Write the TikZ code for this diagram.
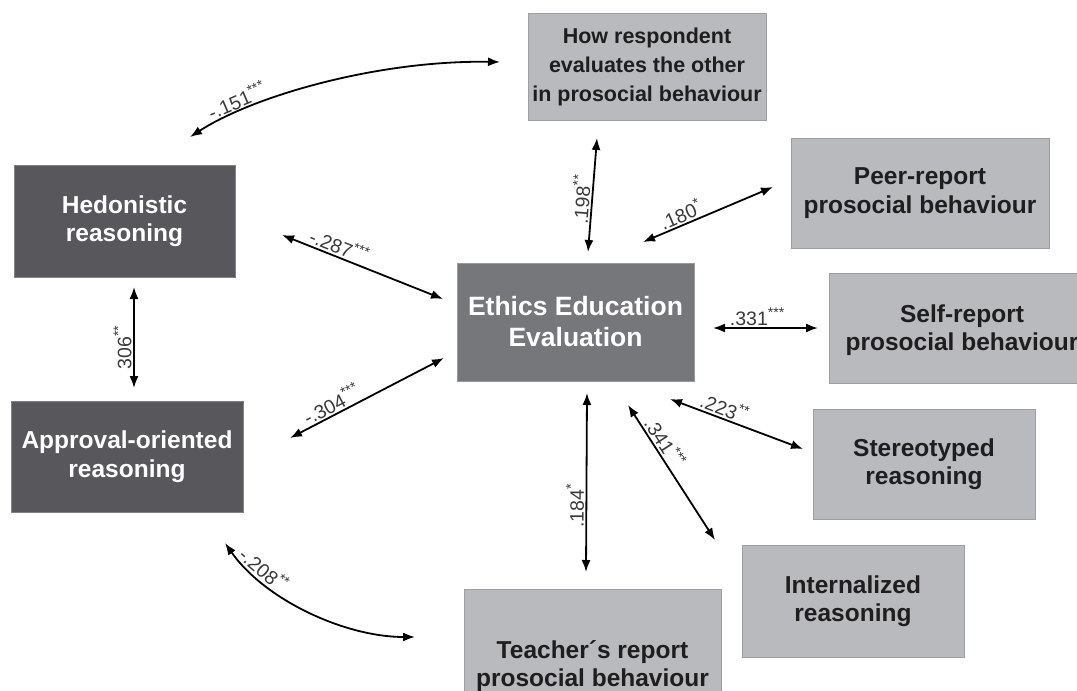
\documentclass[tikz,border=0pt]{standalone}
\usepackage{fontspec}
\setmainfont{Liberation Sans}
\usetikzlibrary{arrows.meta}
\definecolor{darkbox}{HTML}{58585C}
\definecolor{midbox}{HTML}{76777B}
\definecolor{lightbox}{HTML}{B9BABD}
\definecolor{labgray}{HTML}{3A3A3A}
\definecolor{txtdark}{HTML}{1E1E1E}
\newcommand\sigstars[1]{\raisebox{0.42em}{\fontsize{14}{14}\selectfont #1}}
\begin{document}
\begin{tikzpicture}[x=1pt,y=-1pt,
  box/.style={rectangle, inner sep=0pt, outer sep=0pt, align=center, line width=0.8pt,
              font=\bfseries\fontsize{24.5}{28.5}\selectfont},
  dbox/.style={box, fill=darkbox, draw=darkbox!75!white, text=white},
  mbox/.style={box, fill=midbox, draw=midbox!75!white, text=white},
  lbox/.style={box, fill=lightbox, draw=lightbox!85!black, text=txtdark},
  btxt/.style={inner sep=0pt, align=center, font=\bfseries\fontsize{24.5}{28.5}\selectfont, text=txtdark},
  arr/.style={{Latex[length=12pt,width=9pt]}-{Latex[length=12pt,width=9pt]}, line width=1.8pt, black},
  lab/.style={font=\fontsize{19.5}{19.5}\selectfont, text=labgray, inner sep=1.5pt, sloped, above}]
\useasboundingbox (0,0) rectangle (1077,691);
\fill[white] (0,0) rectangle (1077,691);

% boxes
\node[lbox, minimum width=238pt, minimum height=107pt, font=\bfseries\fontsize{21.5}{29}\selectfont] (how) at (647,66.5)
  {How respondent\\evaluates the other\\in prosocial behaviour};
\node[lbox, minimum width=258pt, minimum height=110pt] (peer) at (920,193) {Peer-report\\prosocial behaviour};
\node[lbox, minimum width=261pt, minimum height=110pt] (self) at (959.5,328) {};
\node[btxt] (selft) at (962,330) {Self-report\\prosocial behaviour};
\node[lbox, minimum width=222pt, minimum height=110pt] (stereo) at (924,464) {Stereotyped\\reasoning};
\node[lbox, minimum width=222pt, minimum height=112pt] (intern) at (853,601) {Internalized\\reasoning};
\node[lbox, minimum width=257pt, minimum height=154pt] (teach) at (592.5,666) {Teacher´s report\\prosocial behaviour};
\node[mbox, minimum width=237pt, minimum height=118pt, font=\bfseries\fontsize{26.5}{31}\selectfont] (eth) at (575.5,322) {Ethics Education\\Evaluation};
\node[dbox, minimum width=221pt, minimum height=112pt] (hed) at (124.5,221) {Hedonistic\\reasoning};
\node[dbox, minimum width=232pt, minimum height=111pt] (app) at (127,456.5) {Approval-oriented\\reasoning};

% connector end points
\coordinate (a1s) at (190,137);  \coordinate (a1e) at (500,62);
\coordinate (a2s) at (282,235);  \coordinate (a2e) at (443,299);
\coordinate (a3s) at (290,438);  \coordinate (a3e) at (444,358);
\coordinate (a4s) at (134,388);  \coordinate (a4e) at (134,287);
\coordinate (a5s) at (588,252);  \coordinate (a5e) at (597,138);
\coordinate (a6s) at (643,242);  \coordinate (a6e) at (773,187);
\coordinate (a7s) at (713,328);  \coordinate (a7e) at (818,328);
\coordinate (a8s) at (670,399);  \coordinate (a8e) at (803,449);
\coordinate (a9s) at (628,405);  \coordinate (a9e) at (715,540);
\coordinate (a10s) at (586,572); \coordinate (a10e) at (587,393);
\coordinate (a11s) at (225,543); \coordinate (a11e) at (415,637);

% connectors
\draw[arr] (a1s) .. controls (255,95) and (380,60) .. node[lab, pos=0.22] {-.151\sigstars{***}} (a1e);
\draw[arr] (a2s) -- node[lab, pos=0.33] {-.287\sigstars{***}} (a2e);
\draw[arr] (a3s) -- node[lab, pos=0.3] {-.304\sigstars{***}} (a3e);
\draw[arr] (a4s) -- node[lab, pos=0.4] {306\sigstars{**}} (a4e);
\draw[arr] (a5s) -- node[lab, pos=0.45] {.198\sigstars{**}} (a5e);
\draw[arr] (a6s) -- node[lab, pos=0.32] {.180\sigstars{*}} (a6e);
\draw[arr] (a7s) -- node[lab, pos=0.42] {.331\sigstars{***}} (a7e);
\draw[arr] (a8s) -- node[lab, pos=0.38] {.223\sigstars{**}} (a8e);
\draw[arr] (a9s) -- node[lab, pos=0.32] {.341\sigstars{***}} (a9e);
\draw[arr] (a10s) -- node[lab, pos=0.37] {.184\sigstars{*}} (a10e);
\draw[arr] (a11s) .. controls (265,600) and (345,637) .. node[lab, pos=0.22] {-.208\sigstars{**}} (a11e);
\end{tikzpicture}
\end{document}
